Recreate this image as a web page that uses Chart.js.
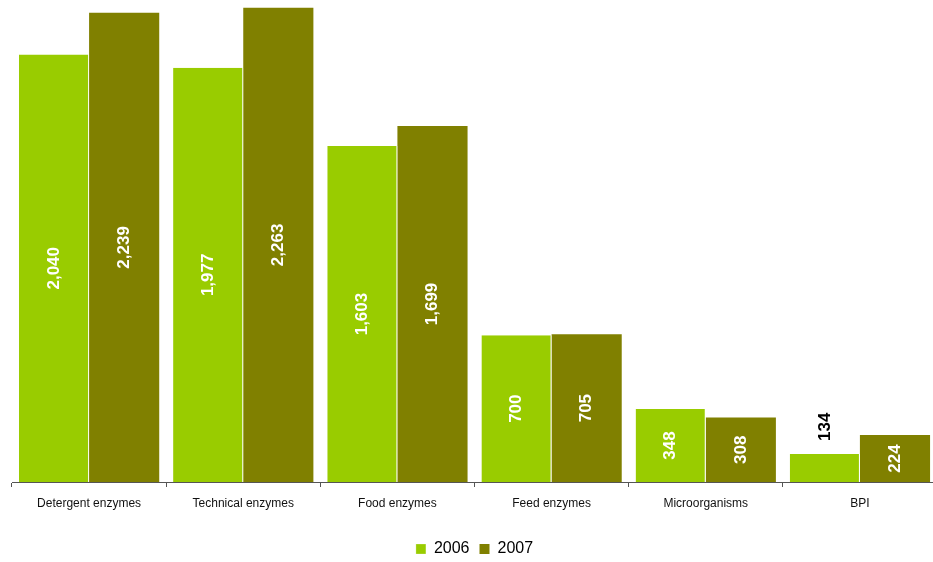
<!DOCTYPE html>
<html>
<head>
<meta charset="utf-8">
<script src="https://cdn.jsdelivr.net/npm/chart.js@4/dist/chart.umd.min.js"></script>
<style>
  html, body { margin: 0; padding: 0; background: #fff; overflow: hidden; }
</style>
</head>
<body>
<canvas id="chart" width="937" height="567"></canvas>
<script>
const categories = ["Detergent enzymes", "Technical enzymes", "Food enzymes", "Feed enzymes", "Microorganisms", "BPI"];
const values2006 = [2040, 1977, 1603, 700, 348, 134];
const values2007 = [2239, 2263, 1699, 705, 308, 224];
const seriesNames = ["2006", "2007"];

// draws the rotated value inside each bar (above it if it does not fit)
const barLabels = {
  id: "barLabels",
  afterDatasetsDraw(chart) {
    const ctx = chart.ctx;
    ctx.save();
    ctx.font = "bold 17px 'Liberation Sans', Arial, sans-serif";
    ctx.textBaseline = "middle";
    chart.data.datasets.forEach((ds, i) => {
      chart.getDatasetMeta(i).data.forEach((bar, j) => {
        const txt = ds.data[j].toLocaleString("en-US");
        const w = ctx.measureText(txt).width;
        const h = bar.base - bar.y;
        ctx.save();
        ctx.translate(bar.x, 0);
        ctx.rotate(-Math.PI / 2);
        if (w + 10 < h) {
          ctx.fillStyle = "#ffffff";
          ctx.textAlign = "center";
          ctx.fillText(txt, -(bar.y + bar.base) / 2, 0);
        } else {
          ctx.fillStyle = "#000000";
          ctx.textAlign = "left";
          ctx.fillText(txt, -(bar.y - 13), 0);
        }
        ctx.restore();
      });
    });
    ctx.restore();
  }
};

const canvas = document.getElementById("chart");
new Chart(canvas, {
  type: "bar",
  data: {
    labels: categories,
    datasets: [
      {
        label: seriesNames[0],
        data: values2006,
        backgroundColor: "#99cc00",
        borderColor: "#ffffff",
        borderWidth: { right: 1, left: 0, top: 0, bottom: 0 },
        borderSkipped: false
      },
      {
        label: seriesNames[1],
        data: values2007,
        backgroundColor: "#808000",
        borderWidth: 0
      }
    ]
  },
  options: {
    responsive: false,
    animation: false,
    devicePixelRatio: 1,
    layout: { padding: { left: 12, right: 0, top: 0, bottom: 0 } },
    datasets: {
      bar: { categoryPercentage: 0.91, barPercentage: 1 }
    },
    scales: {
      x: {
        grid: { display: true, drawOnChartArea: false, tickLength: 5, color: "#555", offset: true },
        border: { display: true, color: "#555", width: 1 },
        ticks: {
          color: "#111",
          padding: 9,
          font: { family: "'Liberation Sans', Arial, sans-serif", size: 12 }
        },
        afterFit(scale) { scale.height = 49; }
      },
      y: {
        display: false,
        min: 0,
        max: 2300
      }
    },
    plugins: {
      legend: {
        position: "bottom",
        labels: {
          boxWidth: 10,
          boxHeight: 10,
          padding: 10,
          color: "#000",
          font: { family: "'Liberation Sans', Arial, sans-serif", size: 16 }
        }
      },
      tooltip: { enabled: false }
    }
  },
  plugins: [barLabels]
});
</script>
</body>
</html>
